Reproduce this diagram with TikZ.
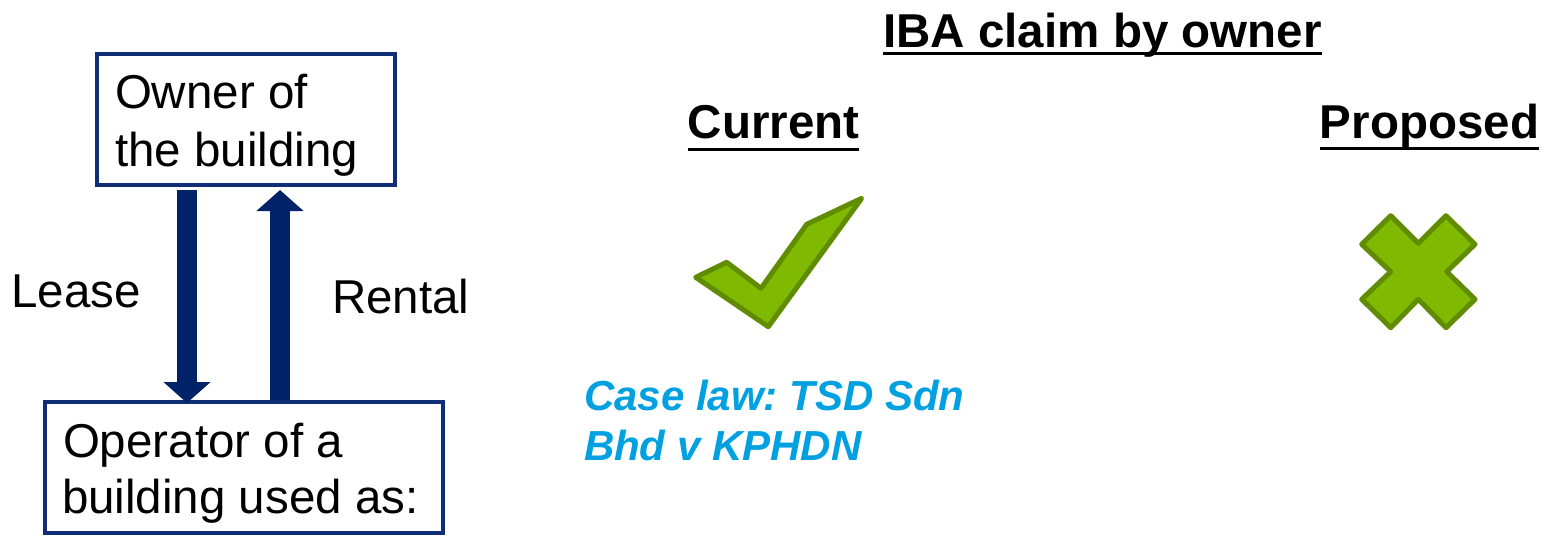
\documentclass[tikz,border=0pt]{standalone}
\usepackage{fontspec}
\setmainfont{Liberation Sans}
\frenchspacing
\usetikzlibrary{arrows.meta,calc}
\definecolor{boxblue}{RGB}{16,46,120}
\definecolor{arrowblue}{RGB}{0,34,104}
\definecolor{tickfill}{RGB}{128,186,0}
\definecolor{tickedge}{RGB}{95,140,0}
\definecolor{caseblue}{RGB}{0,160,225}
\tikzset{
  box/.style={draw=boxblue, line width=2pt, inner sep=0pt, outer sep=0pt, fill=white},
  txt/.style={inner sep=0pt, outer sep=0pt, anchor=base west, font=\fontsize{23.75pt}{29pt}\selectfont},
  head/.style={inner sep=0pt, outer sep=0pt, anchor=base, font=\fontsize{23.75pt}{29pt}\selectfont\bfseries},
  casetxt/.style={inner sep=0pt, outer sep=0pt, anchor=base west, text=caseblue, font=\fontsize{21pt}{25pt}\selectfont\bfseries\itshape},
  uline/.style={line width=1.5pt, black},
  bigarrow/.style={arrowblue, line width=10pt, -{Triangle[width=23pt,length=10.5pt]}},
  symbolshape/.style={fill=tickfill, draw=tickedge, line width=2.5pt, line join=round}
}
\begin{document}
\begin{tikzpicture}[x=0.5pt,y=-0.5pt]
\useasboundingbox (0,0) rectangle (1545,537);
% boxes
\node[box, minimum width=149pt, minimum height=65.5pt] (owner) at (246,119.5) {};
\node[box, minimum width=199pt, minimum height=65.5pt] (operator) at (244,467.5) {};
\node[txt] (owner1) at (115,108) {Owner of};
\node[txt] (owner2) at (115,166) {the building};
\node[txt] (oper1) at (63,457) {Operator of a};
\node[txt] (oper2) at (62,513) {building used as:};
% arrows
\draw[bigarrow] ($(owner.south west)+(90,5)$) -- ($(operator.north west)+(142,1)$);
\draw[bigarrow] ($(operator.north west)+(235,-2)$) -- ($(owner.south west)+(183,5)$);
\node[txt] (lease) at (11.5,307) {Lease};
\node[txt] (rental) at (332,313) {Rental};
% headings
\node[head] (title) at (1102.5,47) {IBA claim by owner};
\draw[uline] ($(title.base west)+(0,6.5)$) -- ($(title.base east)+(0,6.5)$);
\node[head] (current) at (773.5,138) {Current};
\draw[uline] ($(current.base west)+(0,11)$) -- ($(current.base east)+(0,11)$);
\node[head] (proposed) at (1429.5,138) {Proposed};
\draw[uline] ($(proposed.base west)+(0,10)$) -- ($(proposed.base east)+(0,10)$);
% tick
\draw[symbolshape] (695.7,277.3) -- (726.7,262.3) -- (761,288.3) -- (806.7,224.3) -- (861.7,198.3) -- (768.3,326.7) -- cycle;
% cross
\draw[symbolshape] (1361.7,244.3) -- (1390.7,215.7) -- (1418.3,243.3) -- (1446,215.7) -- (1475,244.3) -- (1446.7,271.7) -- (1475,299.3) -- (1446,327.7) -- (1418.3,299.3) -- (1390.7,327.7) -- (1361.7,299.3) -- (1390.7,271.7) -- cycle;
% case law
\node[casetxt] (case1) at (584,410) {Case law: TSD Sdn};
\node[casetxt] (case2) at (584,460) {Bhd v KPHDN};
\end{tikzpicture}
\end{document}
